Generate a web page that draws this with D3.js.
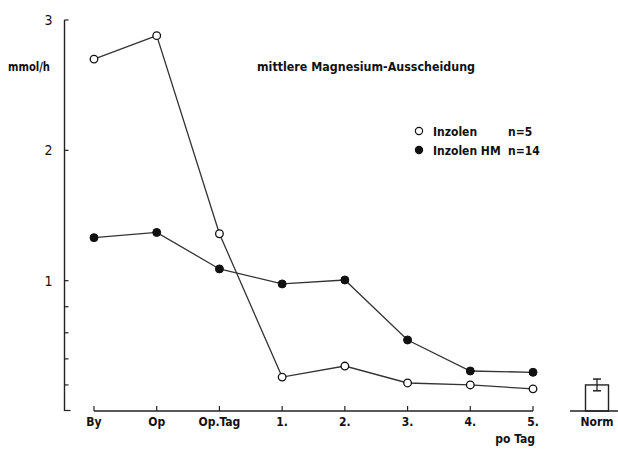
<!DOCTYPE html>
<html><head><meta charset="utf-8">
<script src="https://cdn.jsdelivr.net/npm/d3@7"></script>
<style>
body{margin:0;background:#fff;}
svg{display:block;}
text{font-family:"DejaVu Sans Condensed","DejaVu Sans",sans-serif;fill:#111;}
</style></head><body>
<script>
const categories = ["By","Op","Op.Tag","1.","2.","3.","4.","5."];
const inzolen = [2.70, 2.88, 1.36, 0.26, 0.345, 0.215, 0.20, 0.17];
const inzolenHM = [1.33, 1.37, 1.09, 0.975, 1.005, 0.545, 0.307, 0.297];
const normValue = [0.20];
const normErr = [0.155, 0.245];
const yTicksMajor = [1, 2, 3];
const yTicksMinor = [0.2, 0.4, 0.6, 0.8];
const seriesNames = ["Inzolen", "Inzolen HM"];
const seriesN = ["n=5", "n=14"];

const W = 618, H = 451;
const svg = d3.select("body").append("svg").attr("width", W).attr("height", H);

const x = d3.scalePoint().domain(categories).range([94, 533]);
const y = d3.scaleLinear().domain([0, 3]).range([411, 20]);
const xNorm = d3.scalePoint().domain(["Norm"]).range([597, 597]);

const ink = "#222";

// Y axis
const yAxis = svg.append("g").attr("transform", "translate(64.5,0)");
yAxis.append("line").attr("y1", y(3)).attr("y2", y(0)).attr("stroke", ink).attr("stroke-width", 1.4);
yAxis.selectAll(".maj").data(yTicksMajor).join("line")
  .attr("x1", 0).attr("x2", 4).attr("y1", d => y(d)).attr("y2", d => y(d))
  .attr("stroke", ink).attr("stroke-width", 1.2);
yAxis.selectAll(".min").data(yTicksMinor).join("line")
  .attr("x1", 0).attr("x2", 4).attr("y1", d => y(d)).attr("y2", d => y(d))
  .attr("stroke", ink).attr("stroke-width", 1.2);
yAxis.append("line").attr("x1", 0).attr("x2", 6).attr("y1", y(0)-0.5).attr("y2", y(0)-0.5)
  .attr("stroke", ink).attr("stroke-width", 1.2);
yAxis.selectAll(".lab").data(yTicksMajor).join("text")
  .attr("x", -12).attr("y", d => y(d) + 5).attr("text-anchor", "end")
  .attr("font-size", 14).text(d => d);

svg.append("text").attr("x", 8).attr("y", 71).attr("font-size", 12).attr("font-weight", "bold")
  .attr("textLength", 42).attr("lengthAdjust", "spacingAndGlyphs").text("mmol/h");

// X axis
const xAxis = svg.append("g");
xAxis.append("line").attr("x1", x(categories[0])).attr("x2", x(categories[categories.length-1]))
  .attr("y1", 411).attr("y2", 411).attr("stroke", ink).attr("stroke-width", 1.4);
xAxis.selectAll(".tk").data(categories).join("line")
  .attr("x1", d => x(d)).attr("x2", d => x(d)).attr("y1", 411).attr("y2", 406)
  .attr("stroke", ink).attr("stroke-width", 1.2);
xAxis.selectAll(".lab").data(categories).join("text")
  .attr("x", d => x(d)).attr("y", 426).attr("text-anchor", "middle")
  .attr("font-size", 12).attr("font-weight", "bold").text(d => d);
svg.append("text").attr("x", x("5.") + 2).attr("y", 443).attr("text-anchor", "end")
  .attr("font-size", 12).attr("font-weight", "bold").text("po Tag");

// Norm
svg.append("line").attr("x1", 570).attr("x2", 618).attr("y1", 411).attr("y2", 411)
  .attr("stroke", ink).attr("stroke-width", 1.4);
svg.append("rect").attr("x", xNorm("Norm") - 11.5).attr("width", 23)
  .attr("y", y(normValue[0])).attr("height", y(0) - y(normValue[0]))
  .attr("fill", "none").attr("stroke", ink).attr("stroke-width", 1.4);
svg.append("line").attr("x1", xNorm("Norm")).attr("x2", xNorm("Norm"))
  .attr("y1", y(normErr[0])).attr("y2", y(normErr[1])).attr("stroke", ink).attr("stroke-width", 1.3);
svg.selectAll(".cap").data(normErr).join("line")
  .attr("x1", xNorm("Norm") - 4).attr("x2", xNorm("Norm") + 4)
  .attr("y1", d => y(d)).attr("y2", d => y(d)).attr("stroke", ink).attr("stroke-width", 1.5);
svg.append("text").attr("x", xNorm("Norm")).attr("y", 426).attr("text-anchor", "middle")
  .attr("font-size", 12).attr("font-weight", "bold").text("Norm");

// Lines
const line = d3.line().x((d, i) => x(categories[i])).y(d => y(d));
svg.append("path").datum(inzolenHM).attr("d", line).attr("fill", "none")
  .attr("stroke", "#333").attr("stroke-width", 1.3);
svg.append("path").datum(inzolen).attr("d", line).attr("fill", "none")
  .attr("stroke", "#333").attr("stroke-width", 1.3);
svg.selectAll(".pf").data(inzolenHM).join("circle")
  .attr("cx", (d, i) => x(categories[i])).attr("cy", d => y(d)).attr("r", 4)
  .attr("fill", "#111").attr("stroke", "#111");
svg.selectAll(".po").data(inzolen).join("circle")
  .attr("cx", (d, i) => x(categories[i])).attr("cy", d => y(d)).attr("r", 3.8)
  .attr("fill", "#fff").attr("stroke", "#111").attr("stroke-width", 1.3);

// Title
svg.append("text").attr("x", 257).attr("y", 71).attr("font-size", 12).attr("font-weight", "bold")
  .attr("textLength", 218).attr("lengthAdjust", "spacingAndGlyphs")
  .text("mittlere Magnesium-Ausscheidung");

// Legend
const leg = svg.append("g");
const legY = [131, 150];
leg.selectAll("circle").data(seriesNames).join("circle")
  .attr("cx", 419).attr("cy", (d, i) => legY[i]).attr("r", 3.6)
  .attr("fill", (d, i) => i === 0 ? "#fff" : "#111").attr("stroke", "#111").attr("stroke-width", 1.2);
leg.selectAll(".nm").data(seriesNames).join("text")
  .attr("x", 433).attr("y", (d, i) => legY[i] + 5).attr("font-size", 12).attr("font-weight", "bold")
  .text(d => d);
leg.selectAll(".nn").data(seriesN).join("text")
  .attr("x", 508).attr("y", (d, i) => legY[i] + 5).attr("font-size", 12).attr("font-weight", "bold")
  .text(d => d);
</script>
</body></html>
